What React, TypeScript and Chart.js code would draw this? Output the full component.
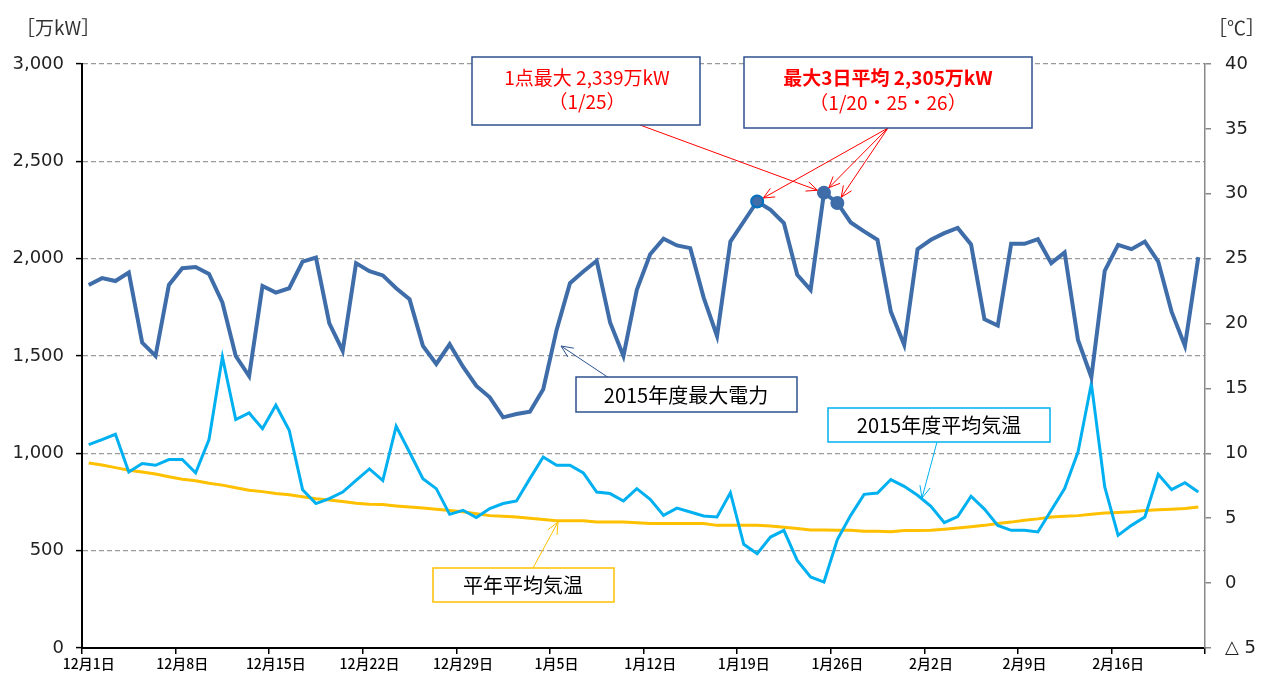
import React, { useEffect, useRef } from 'react';
import { Chart, registerables } from 'chart.js';

Chart.register(...registerables);

// ---- Data ----
const monthSpans: [number, number][] = [[12, 31], [1, 31], [2, 22]];
const dateLabels: string[] = [];
for (const [m, n] of monthSpans) for (let d = 1; d <= n; d++) dateLabels.push(`${m}月${d}日`);

const maxPower: number[] = [
  1865, 1900, 1885, 1929, 1569, 1500, 1865, 1951, 1957, 1922,
  1775, 1500, 1397, 1860, 1826, 1848, 1985, 2006, 1668, 1527,
  1977, 1936, 1914, 1848, 1792, 1552, 1459, 1560, 1445, 1346,
  1288, 1185, 1202, 1214, 1329, 1634, 1874, 1934, 1989, 1672,
  1500, 1840, 2023, 2102, 2068, 2054, 1800, 1603, 2088, 2191,
  2294, 2251, 2183, 1917, 1840, 2339, 2286, 2186, 2140, 2097,
  1728, 1557, 2049, 2097, 2131, 2158, 2073, 1689, 1656, 2076,
  2076, 2100, 1977, 2032, 1582, 1391, 1937, 2071, 2049, 2088,
  1985, 1728, 1552, 2008,
];

const avgTemp: number[] = [
  10.67, 11.06, 11.47, 8.56, 9.21, 9.08, 9.52, 9.52, 8.49, 11.06,
  17.43, 12.6, 13.11, 11.9, 13.71, 11.78, 7.2, 6.13, 6.51, 7.02,
  7.92, 8.8, 7.9, 12.09, 10.08, 8.05, 7.28, 5.3, 5.61, 5.05,
  5.74, 6.13, 6.33, 8.05, 9.72, 9.08, 9.08, 8.49, 7.02, 6.9,
  6.33, 7.28, 6.46, 5.22, 5.78, 5.48, 5.17, 5.1, 6.97, 2.99,
  2.27, 3.55, 4.07, 1.75, 0.47, 0.08, 3.35, 5.22, 6.84, 6.94,
  7.98, 7.46, 6.77, 5.92, 4.66, 5.12, 6.69, 5.7, 4.45, 4.07,
  4.07, 3.94, 5.61, 7.28, 10.1, 15.38, 7.41, 3.68, 4.45, 5.1,
  8.39, 7.2, 7.74, 7.02,
];

const normalTemp: number[] = [
  9.26, 9.1, 8.9, 8.7, 8.56, 8.4, 8.2, 8.0, 7.88, 7.7,
  7.55, 7.35, 7.15, 7.05, 6.9, 6.8, 6.65, 6.5, 6.4, 6.28,
  6.15, 6.07, 6.05, 5.95, 5.87, 5.78, 5.7, 5.6, 5.5, 5.35,
  5.2, 5.15, 5.1, 5.0, 4.9, 4.8, 4.8, 4.8, 4.7, 4.7,
  4.7, 4.66, 4.6, 4.6, 4.6, 4.6, 4.6, 4.45, 4.45, 4.45,
  4.45, 4.4, 4.3, 4.2, 4.1, 4.1, 4.07, 4.07, 4.0, 4.0,
  3.95, 4.05, 4.05, 4.07, 4.15, 4.25, 4.35, 4.45, 4.6, 4.7,
  4.85, 4.95, 5.1, 5.15, 5.2, 5.3, 5.4, 5.45, 5.5, 5.6,
  5.65, 5.7, 5.75, 5.87,
];

const peakIndex = 55; // 1/25
const top3Indices: number[] = [50, 55, 56]; // 1/20, 1/25, 1/26

const powerTicks: number[] = [0, 500, 1000, 1500, 2000, 2500, 3000];

// ---- Styles ----
const POWER_COLOR = '#3E6DA9';
const TEMP_COLOR = '#00B0F0';
const NORMAL_COLOR = '#FFC000';
const BOX_BLUE = '#2F528F';
const numFont = '"DejaVu Sans", sans-serif';
const jpFont = '"Noto Sans CJK JP", "Noto Sans", sans-serif';

function drawArrow(ctx: CanvasRenderingContext2D, x1: number, y1: number, x2: number, y2: number, color: string, width: number, head = 11) {
  ctx.save();
  ctx.strokeStyle = color;
  ctx.lineWidth = width;
  ctx.beginPath();
  ctx.moveTo(x1, y1);
  ctx.lineTo(x2, y2);
  ctx.stroke();
  const a = Math.atan2(y2 - y1, x2 - x1);
  const s = 0.42;
  ctx.beginPath();
  ctx.moveTo(x2 - head * Math.cos(a - s), y2 - head * Math.sin(a - s));
  ctx.lineTo(x2, y2);
  ctx.lineTo(x2 - head * Math.cos(a + s), y2 - head * Math.sin(a + s));
  ctx.stroke();
  ctx.restore();
}

function drawBox(ctx: CanvasRenderingContext2D, x: number, y: number, w: number, h: number, border: string, lw: number) {
  ctx.save();
  ctx.fillStyle = '#fff';
  ctx.fillRect(x, y, w, h);
  ctx.strokeStyle = border;
  ctx.lineWidth = lw;
  ctx.strokeRect(x, y, w, h);
  ctx.restore();
}

function text(ctx: CanvasRenderingContext2D, s: string, x: number, y: number, font: string, color: string, align: CanvasTextAlign = 'center') {
  ctx.save();
  ctx.font = font;
  ctx.fillStyle = color;
  ctx.textAlign = align;
  ctx.textBaseline = 'middle';
  ctx.fillText(s, x, y);
  ctx.restore();
}

const annotationPlugin = {
  id: 'annotations',
  afterDraw(chart: any) {
    const ctx: CanvasRenderingContext2D = chart.ctx;
    const meta = chart.getDatasetMeta(0);
    const pt = (i: number) => ({ x: meta.data[i].x, y: meta.data[i].y });
    const tipToward = (i: number, ox: number, oy: number) => {
      const p = pt(i);
      const dx = ox - p.x, dy = oy - p.y;
      const d = Math.hypot(dx, dy);
      return { x: p.x + (dx / d) * 7, y: p.y + (dy / d) * 7 };
    };

    // axis unit labels
    text(ctx, '［万kW］', 16, 28, `19px ${jpFont}`, '#333', 'left');
    text(ctx, '［℃］', 1208, 28, `19px ${jpFont}`, '#333', 'left');

    // red arrows
    const o1 = { x: 640, y: 125 };
    const t1 = tipToward(peakIndex, o1.x, o1.y);
    drawArrow(ctx, o1.x, o1.y, t1.x, t1.y, '#FF0000', 1, 12);
    const o2 = { x: 888, y: 128 };
    for (const i of top3Indices) {
      const t = tipToward(i, o2.x, o2.y);
      drawArrow(ctx, o2.x, o2.y, t.x, t.y, '#FF0000', 1, 12);
    }

    // callout boxes
    drawBox(ctx, 472, 57, 228, 68, BOX_BLUE, 1.5);
    text(ctx, '1点最大 2,339万kW', 587, 78, `19px ${jpFont}`, '#FF0000');
    text(ctx, '（1/25）', 587, 102, `19px ${jpFont}`, '#FF0000');

    drawBox(ctx, 744, 57, 288, 71, BOX_BLUE, 1.5);
    text(ctx, '最大3日平均 2,305万kW', 888, 78, `bold 19px ${jpFont}`, '#FF0000');
    text(ctx, '（1/20・25・26）', 888, 103, `19px ${jpFont}`, '#FF0000');

    // series labels
    drawArrow(ctx, 609, 378, 561, 346, BOX_BLUE, 1, 13);
    drawBox(ctx, 576, 377, 221, 35, BOX_BLUE, 1.5);
    text(ctx, '2015年度最大電力', 686, 395, `20px ${jpFont}`, '#000');

    drawArrow(ctx, 937, 442, 922, 498, TEMP_COLOR, 1, 13);
    drawBox(ctx, 828, 408, 222, 34, TEMP_COLOR, 1.5);
    text(ctx, '2015年度平均気温', 939, 425, `20px ${jpFont}`, '#000');

    drawArrow(ctx, 533, 568, 558, 522, NORMAL_COLOR, 1, 13);
    drawBox(ctx, 433, 568, 181, 34, NORMAL_COLOR, 1.5);
    text(ctx, '平年平均気温', 523, 585, `20px ${jpFont}`, '#000');
  },
};

export default function App() {
  const ref = useRef<HTMLCanvasElement | null>(null);

  useEffect(() => {
    if (!ref.current) return;
    const chart = new Chart(ref.current, {
      type: 'line',
      data: {
        labels: dateLabels,
        datasets: [
          {
            label: '2015年度最大電力',
            data: maxPower,
            yAxisID: 'y',
            borderColor: POWER_COLOR,
            borderWidth: 4,
            pointRadius: (c: any) => (top3Indices.includes(c.dataIndex) ? 6 : 0),
            pointBackgroundColor: POWER_COLOR,
            pointBorderColor: (c: any) => (c.dataIndex === top3Indices[0] ? '#0070C0' : POWER_COLOR),
            pointBorderWidth: 2,
            tension: 0,
            order: 0,
          },
          {
            label: '2015年度平均気温',
            data: avgTemp,
            yAxisID: 'y1',
            borderColor: TEMP_COLOR,
            borderWidth: 3,
            pointRadius: 0,
            tension: 0,
            order: 1,
          },
          {
            label: '平年平均気温',
            data: normalTemp,
            yAxisID: 'y1',
            borderColor: NORMAL_COLOR,
            borderWidth: 3,
            pointRadius: 0,
            tension: 0,
            order: 2,
          },
        ],
      },
      options: {
        responsive: false,
        maintainAspectRatio: false,
        animation: false,
        layout: { padding: { top: 64, left: 0, right: 0, bottom: 0 } },
        plugins: { legend: { display: false }, tooltip: { enabled: false } },
        scales: {
          x: {
            type: 'category',
            offset: true,
            grid: {
              offset: true,
              drawOnChartArea: false,
              tickLength: 6,
              lineWidth: 1.5,
              color: (c: any) => (c.index === undefined || c.index % 7 === 0 ? '#000' : 'rgba(0,0,0,0)'),
            },
            border: { color: '#000', width: 2 },
            ticks: {
              autoSkip: false,
              maxRotation: 0,
              minRotation: 0,
              padding: 1,
              color: '#000',
              font: { family: jpFont, size: 14, weight: '500' },
              callback: (_v: any, i: number) => (i % 7 === 0 ? dateLabels[i] : ''),
            },
            afterFit: (s: any) => { s.height = 27; },
          },
          y: {
            position: 'left',
            min: 0,
            max: 3000,
            afterBuildTicks: (s: any) => { s.ticks = powerTicks.map((v) => ({ value: v })); },
            ticks: {
              padding: 12,
              color: '#222',
              font: { family: numFont, size: 18 },
              callback: (v: any) => Number(v).toLocaleString('en-US'),
            },
            grid: {
              color: (c: any) => (c.tick && c.tick.value === 0 ? 'rgba(0,0,0,0)' : '#9a9a9a'),
              lineWidth: 1.2,
              tickLength: 6,
              tickColor: '#000',
              tickWidth: 1.5,
            },
            border: { color: '#000', width: 2, dash: [5, 3] },
            afterFit: (s: any) => { s.width = 82; },
          },
          y1: {
            position: 'right',
            min: -5,
            max: 40,
            ticks: {
              stepSize: 5,
              padding: 14,
              color: '#222',
              font: { family: numFont, size: 18 },
              callback: (v: any) => (Number(v) === -5 ? '△ 5' : String(v)),
            },
            grid: { drawOnChartArea: false, tickLength: 6, color: '#888', lineWidth: 1.5 },
            border: { color: '#888', width: 1.5 },
            afterFit: (s: any) => { s.width = 59; },
          },
        },
      } as any,
      plugins: [annotationPlugin],
    });
    return () => chart.destroy();
  }, []);

  return (
    <div style={{ position: 'fixed', left: 0, top: 0, width: 1264, height: 675, background: '#fff' }}>
      <canvas ref={ref} width={1264} height={675} style={{ display: 'block', width: 1264, height: 675 }} />
    </div>
  );
}
